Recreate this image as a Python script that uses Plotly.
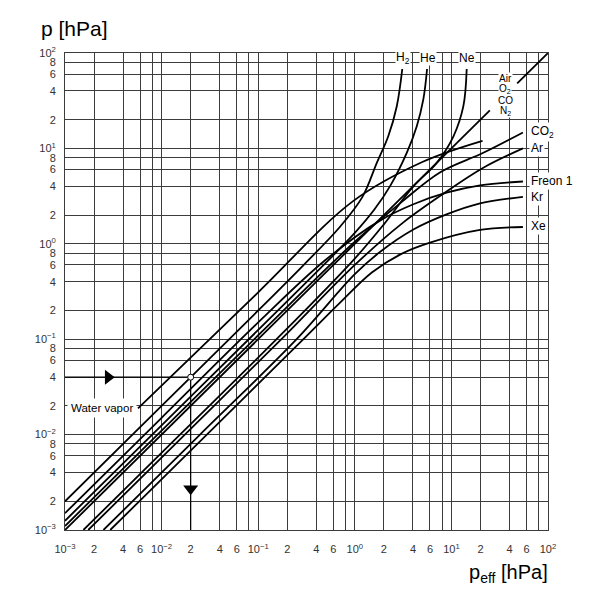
import plotly.graph_objects as go

# ---------------- data ----------------
H2_peff = [0.001, 0.01, 0.1, 0.3, 0.7, 1.2, 1.69, 2.22, 2.72, 3.1]
H2_p = [0.002, 0.02, 0.2, 0.61, 1.5, 3.1, 7.06, 13.4, 27.7, 68]

He_peff = [0.001, 0.01, 0.1, 0.5, 1.0, 1.6, 2.31, 3.45, 4.38, 5.12, 5.6]
He_p = [0.00125, 0.0125, 0.125, 0.63, 1.3, 2.3, 4.0, 9.0, 17.1, 32.6, 68]

Ne_peff = [0.00155, 0.0155, 0.155, 1.0, 2.0, 4.04, 7.05, 10.5, 13.3, 14.4]
Ne_p = [0.001, 0.01, 0.1, 0.7, 1.6, 4.0, 7.06, 13.4, 27.7, 68]

Air_peff = [0.001, 25]
Air_p = [0.001, 25]
Air2_peff = [48, 100]
Air2_p = [48, 100]

CO2_peff = [0.001, 0.01, 0.1, 1.0, 3.0, 7.6, 21.4, 55]
CO2_p = [0.0011, 0.011, 0.11, 1.05, 2.7, 5.6, 9.0, 14.7]

Ar_peff = [0.00174, 0.0174, 0.174, 1.0, 3.0, 7.6, 21.4, 55]
Ar_p = [0.001, 0.01, 0.1, 0.6, 1.6, 3.16, 6.27, 10]

Freon_peff = [0.001, 0.01, 0.1, 0.5, 1.82, 4.04, 8.9, 19.8, 55]
Freon_p = [0.0015, 0.015, 0.15, 0.68, 1.75, 2.6, 3.43, 4.1, 4.5]

Kr_peff = [0.0025, 0.025, 0.25, 1.0, 1.82, 4.04, 8.9, 19.8, 55]
Kr_p = [0.001, 0.01, 0.1, 0.48, 0.82, 1.41, 2.03, 2.65, 3.1]

Xe_peff = [0.00294, 0.0294, 0.294, 0.7, 1.5, 3.0, 6.0, 19.8, 55]
Xe_p = [0.001, 0.01, 0.1, 0.24, 0.5, 0.78, 1.03, 1.4, 1.5]

Water_peff = [0.0057, 0.1, 0.96, 5.0, 21]
Water_p = [0.0188, 0.31, 2.8, 7.2, 12]

Example_peff = [0.02]
Example_p = [0.04]

# tick grid
decades = [-3, -2, -1, 0, 1]
mults = [1, 2, 4, 6, 8]
sup = {-3: "−3", -2: "−2", -1: "−1", 0: "0", 1: "1", 2: "2"}

tickvals = []
xtext = []
ytext = []
for d in decades:
    for m in mults:
        tickvals.append(m * 10 ** d)
        if m == 1:
            t = "10<sup>%s</sup>" % sup[d]
            xtext.append(t)
            ytext.append(t)
        else:
            xtext.append("" if m == 8 else str(m))
            ytext.append(str(m))
tickvals.append(100)
xtext.append("10<sup>2</sup>")
ytext.append("10<sup>2</sup>")

# ---------------- figure ----------------
fig = go.Figure()
line_style = dict(color="black", width=1.8, shape="spline", smoothing=1.0)
for xs, ys in [(H2_peff, H2_p), (He_peff, He_p), (Ne_peff, Ne_p),
               (Air_peff, Air_p), (Air2_peff, Air2_p), (CO2_peff, CO2_p),
               (Ar_peff, Ar_p), (Freon_peff, Freon_p), (Kr_peff, Kr_p),
               (Xe_peff, Xe_p), (Water_peff, Water_p)]:
    fig.add_trace(go.Scatter(x=xs, y=ys, mode="lines", line=line_style,
                             showlegend=False, hoverinfo="skip"))

# example arrows
fig.add_trace(go.Scatter(x=[0.001, Example_peff[0]], y=[Example_p[0], Example_p[0]],
                         mode="lines", line=dict(color="black", width=1.2),
                         showlegend=False, hoverinfo="skip"))
fig.add_trace(go.Scatter(x=[Example_peff[0], Example_peff[0]], y=[Example_p[0], 0.001],
                         mode="lines", line=dict(color="black", width=1.2),
                         showlegend=False, hoverinfo="skip"))
fig.add_trace(go.Scatter(x=[0.0028], y=Example_p, mode="markers",
                         marker=dict(symbol="triangle-right", size=13, color="black"),
                         showlegend=False, hoverinfo="skip"))
fig.add_trace(go.Scatter(x=Example_peff, y=[0.0027], mode="markers",
                         marker=dict(symbol="triangle-down", size=13, color="black"),
                         showlegend=False, hoverinfo="skip"))
fig.add_trace(go.Scatter(x=Example_peff, y=Example_p, mode="markers",
                         marker=dict(symbol="circle", size=6, color="white",
                                     line=dict(color="black", width=1)),
                         showlegend=False, hoverinfo="skip"))

L, R, T, B = 65, 52, 53, 70
W = 600 - L - R
H = 600 - T - B


def px(x, y):
    return (x - L) / W, (600 - B - y) / H


axis_common = dict(type="log", range=[-3, 2], tickmode="array", tickvals=tickvals,
                   showgrid=True, gridcolor="#3c3c3c", gridwidth=1,
                   showline=True, linecolor="#3c3c3c", linewidth=1, mirror=True,
                   ticks="", zeroline=False,
                   tickfont=dict(family="Liberation Sans, Arial", size=11, color="#333"))
fig.update_xaxes(**axis_common, ticktext=xtext, ticklabelstandoff=9)
fig.update_yaxes(**axis_common, ticktext=ytext, ticklabelstandoff=6)

annos = [
    ("H<sub>2</sub>", 403, 58, 12), ("He", 428, 58, 12), ("Ne", 467, 58, 12),
    ("Air", 505, 78, 10), ("O<sub>2</sub>", 505, 89, 10), ("CO", 505, 100, 10),
    ("N<sub>2</sub>", 505, 111, 10),
]
for text, x, y, s in annos:
    xp, yp = px(x, y)
    fig.add_annotation(x=xp, y=yp, xref="paper", yref="paper", text=text, showarrow=False,
                       font=dict(family="Liberation Sans, Arial", size=s, color="black"),
                       bgcolor="white", borderpad=0, xanchor="center", yanchor="middle")

right_labels = [("CO<sub>2</sub>", 529, 132), ("Ar", 529, 148), ("Freon 1", 529, 181),
                ("Kr", 529, 197), ("Xe", 529, 226)]
for text, x, y in right_labels:
    xp, yp = px(x, y)
    fig.add_annotation(x=xp, y=yp, xref="paper", yref="paper", text=text, showarrow=False,
                       font=dict(family="Liberation Sans, Arial", size=12, color="black"),
                       bgcolor="white", borderpad=1, xanchor="left", yanchor="middle")

xp, yp = px(67, 408)
fig.add_annotation(x=xp, y=yp, xref="paper", yref="paper", text="Water vapor", showarrow=False,
                   font=dict(family="Liberation Sans, Arial", size=11.5, color="black"),
                   bgcolor="white", borderpad=3, xanchor="left", yanchor="middle")

xp, yp = px(39, 28)
fig.add_annotation(x=xp, y=yp, xref="paper", yref="paper", text="p [hPa]", showarrow=False,
                   font=dict(family="Liberation Sans, Arial", size=21, color="black"),
                   xanchor="left", yanchor="middle")
xp, yp = px(550, 573)
fig.add_annotation(x=xp, y=yp, xref="paper", yref="paper", text="p<sub>eff</sub> [hPa]",
                   showarrow=False,
                   font=dict(family="Liberation Sans, Arial", size=20, color="black"),
                   xanchor="right", yanchor="middle")

fig.update_layout(width=600, height=600, margin=dict(l=L, r=R, t=T, b=B),
                  paper_bgcolor="white", plot_bgcolor="white", showlegend=False)

fig.write_html("out.html")
